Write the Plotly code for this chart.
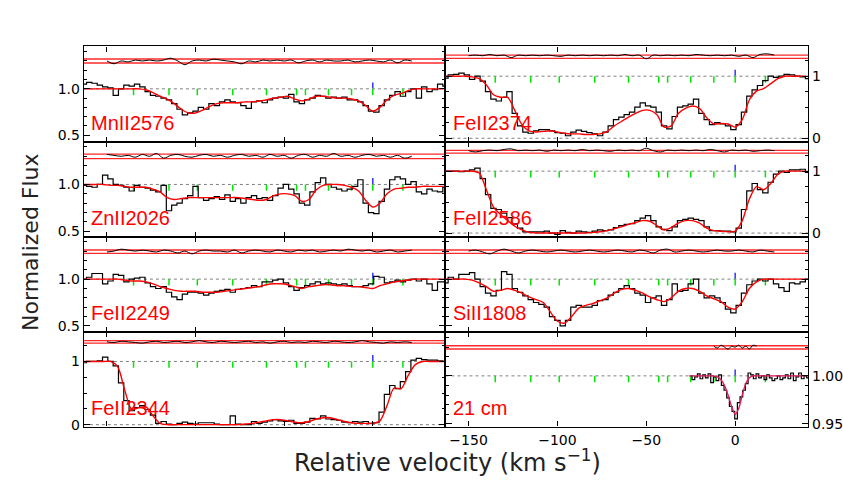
import numpy as np
import plotly.graph_objects as go
from plotly.subplots import make_subplots

W, H = 843, 482
fontsize = 14


def px_x(x):
    return x / W


def px_y(y):
    return 1 - y / H


# velocity grids (km/s)
v_data = np.arange(-163, 42, 3)
v_fit = np.arange(-164, 41, 4)
v_res = np.arange(-150, 23, 4)
v_21 = np.arange(-25, 41.1, 1.5)
v_21fit = np.arange(-26, 41, 2)
v_21res = np.arange(-12, 13, 2)

v_comp = [-135, -115, -99, -79, -60, -43, -38, -25, -12, 0, 17]
v_ref = [0]

# ---- MnII 2576
mn2576_flux = [1.05, 1.07, 1.06, 1.04, 1.02, 1.01, 0.93, 1.00, 1.04, 1.03,
               1.05, 1.02, 0.97, 0.93, 0.92, 0.90, 0.88, 0.84, 0.78, 0.72,
               0.74, 0.76, 0.80, 0.78, 0.84, 0.82, 0.86, 0.88, 0.86, 0.85,
               0.82, 0.79, 0.86, 0.87, 0.85, 0.88, 0.90, 0.91, 0.90, 0.94,
               0.86, 0.84, 0.88, 0.90, 0.93, 0.92, 0.90, 0.91, 0.90, 0.91,
               0.88, 0.88, 0.86, 0.82, 0.76, 0.75, 0.82, 0.88, 0.93, 0.97,
               0.92, 0.97, 1.00, 0.90, 1.02, 0.97, 0.99, 1.05, 1.03]
mn2576_fit = [1.0, 1.0, 1.0, 1.0, 1.0, 1.0, 1.0, 1.0, 1.0, 0.99,
              0.96, 0.92, 0.89, 0.84, 0.78, 0.74, 0.74, 0.77, 0.81, 0.84,
              0.85, 0.85, 0.85, 0.86, 0.86, 0.87, 0.88, 0.90, 0.91, 0.92,
              0.89, 0.87, 0.89, 0.92, 0.92, 0.91, 0.90, 0.90, 0.89, 0.87,
              0.82, 0.76, 0.80, 0.88, 0.93, 0.95, 0.98, 1.0, 1.0, 1.0,
              1.0, 1.0]
mn2576_res = [1.30, 1.27, 1.30, 1.29, 1.31, 1.30, 1.31, 1.30, 1.31, 1.33,
              1.30, 1.26, 1.30, 1.31, 1.30, 1.32, 1.31, 1.30, 1.29, 1.27,
              1.30, 1.29, 1.31, 1.30, 1.31, 1.30, 1.31, 1.28, 1.30, 1.31,
              1.29, 1.31, 1.30, 1.30, 1.31, 1.29, 1.30, 1.31, 1.30, 1.29,
              1.31, 1.28, 1.31, 1.30]

# ---- ZnII 2026
zn2026_flux = [0.99, 0.98, 0.97, 1.00, 1.10, 1.06, 1.00, 0.99, 0.97, 0.93,
               0.99, 0.97, 0.96, 0.94, 0.92, 0.99, 0.72, 0.78, 0.80, 0.85,
               0.88, 0.98, 0.86, 0.83, 0.85, 0.87, 0.84, 0.89, 0.82, 0.85,
               0.80, 0.86, 0.88, 0.85, 0.86, 0.83, 0.88, 0.96, 1.00, 0.95,
               0.90, 0.80, 0.78, 0.92, 1.02, 1.07, 1.00, 0.97, 0.95, 0.93,
               0.95, 0.98, 1.05, 0.80, 0.70, 0.69, 0.82, 0.95, 1.05, 1.08,
               1.06, 1.00, 1.03, 0.92, 0.90, 0.95, 0.93, 0.92, 0.97]
zn2026_fit = [1.0, 1.0, 1.0, 1.0, 0.99, 0.99, 0.98, 0.97, 0.97, 0.97,
              0.95, 0.92, 0.86, 0.84, 0.85, 0.86, 0.86, 0.86, 0.86, 0.86,
              0.86, 0.86, 0.86, 0.85, 0.84, 0.83, 0.84, 0.88, 0.90, 0.90,
              0.88, 0.82, 0.84, 0.94, 0.99, 1.0, 1.0, 0.99, 0.97, 0.93,
              0.83, 0.76, 0.80, 0.90, 0.95, 0.96, 0.97, 0.97, 0.98, 0.98,
              0.98, 0.98]
zn2026_res = [1.32, 1.31, 1.30, 1.31, 1.29, 1.32, 1.30, 1.33, 1.28, 1.31,
              1.32, 1.30, 1.29, 1.31, 1.32, 1.30, 1.31, 1.29, 1.31, 1.32,
              1.30, 1.31, 1.29, 1.32, 1.30, 1.31, 1.28, 1.31, 1.32, 1.29,
              1.31, 1.30, 1.33, 1.30, 1.31, 1.29, 1.31, 1.32, 1.30, 1.31,
              1.29, 1.31, 1.28, 1.30]

# ---- FeII 2249
fe2249_flux = [1.00, 1.02, 1.06, 1.06, 0.95, 0.98, 1.05, 1.04, 0.97, 1.00,
               1.01, 1.02, 0.96, 0.92, 0.90, 0.92, 0.86, 0.81, 0.78, 0.84,
               0.86, 0.86, 0.85, 0.83, 0.85, 0.87, 0.88, 0.89, 0.86, 0.89,
               0.90, 0.91, 0.93, 0.92, 0.97, 0.97, 0.99, 1.00, 0.96, 0.92,
               0.88, 0.91, 0.93, 0.95, 0.97, 0.95, 0.96, 0.95, 0.94, 0.95,
               0.93, 0.92, 0.92, 0.93, 0.95, 1.03, 1.02, 0.96, 0.97, 0.99,
               0.97, 0.99, 1.00, 0.98, 1.00, 0.95, 0.88, 0.97, 0.97]
fe2249_fit = [1.0, 1.0, 1.0, 1.0, 1.0, 1.0, 0.99, 0.98, 0.98, 0.97,
              0.95, 0.92, 0.90, 0.88, 0.87, 0.87, 0.87, 0.86, 0.86, 0.86,
              0.87, 0.88, 0.89, 0.90, 0.91, 0.92, 0.94, 0.95, 0.95, 0.94,
              0.92, 0.90, 0.92, 0.93, 0.94, 0.94, 0.93, 0.93, 0.92, 0.92,
              0.91, 0.90, 0.93, 0.95, 0.97, 0.98, 0.99, 1.0, 1.0, 1.0,
              1.0, 1.0]
fe2249_res = [1.29, 1.30, 1.32, 1.31, 1.30, 1.31, 1.30, 1.29, 1.31, 1.30,
              1.28, 1.30, 1.27, 1.30, 1.31, 1.30, 1.30, 1.29, 1.31, 1.28,
              1.30, 1.31, 1.30, 1.29, 1.31, 1.30, 1.29, 1.31, 1.30, 1.31,
              1.29, 1.30, 1.31, 1.30, 1.32, 1.31, 1.30, 1.31, 1.29, 1.30,
              1.31, 1.29, 1.30, 1.31]

# ---- FeII 2344
fe2344_flux = [0.98, 1.00, 1.00, 1.01, 1.07, 1.00, 0.93, 0.66, 0.38, 0.22,
               0.27, 0.30, 0.24, 0.15, 0.02, 0.05, 0.01, 0.00, 0.02, 0.04,
               0.02, 0.01, 0.03, 0.03, 0.03, 0.01, 0.00, 0.00, 0.14, 0.01,
               0.00, 0.00, 0.05, 0.02, 0.04, 0.06, 0.08, 0.06, 0.05, 0.07,
               0.02, 0.02, 0.04, 0.10, 0.09, 0.14, 0.09, 0.08, 0.07, 0.04,
               0.03, 0.05, 0.04, 0.05, 0.02, 0.03, 0.20, 0.48, 0.62, 0.57,
               0.68, 0.84, 1.02, 1.05, 1.03, 1.02, 1.02, 1.01, 1.00]
fe2344_fit = [1.0, 1.0, 1.0, 1.0, 1.0, 0.92, 0.55, 0.24, 0.27, 0.28,
              0.14, 0.02, 0.0, 0.0, 0.0, 0.0, 0.0, 0.0, 0.0, 0.0,
              0.0, 0.0, 0.0, 0.01, 0.02, 0.04, 0.06, 0.08, 0.08, 0.06,
              0.04, 0.03, 0.05, 0.09, 0.11, 0.11, 0.08, 0.05, 0.03, 0.02,
              0.02, 0.02, 0.06, 0.30, 0.58, 0.57, 0.78, 0.95, 1.0, 1.0,
              1.0, 1.0]
fe2344_res = [1.31, 1.30, 1.32, 1.31, 1.30, 1.29, 1.31, 1.32, 1.30, 1.31,
              1.32, 1.30, 1.31, 1.33, 1.31, 1.30, 1.32, 1.31, 1.30, 1.31,
              1.32, 1.30, 1.31, 1.29, 1.31, 1.32, 1.30, 1.31, 1.30, 1.32,
              1.31, 1.30, 1.32, 1.31, 1.30, 1.31, 1.33, 1.31, 1.30, 1.29,
              1.31, 1.30, 1.31, 1.30]

# ---- FeII 2374
fe2374_flux = [0.97, 1.02, 1.03, 1.05, 1.02, 0.95, 1.00, 0.92, 0.75, 0.63,
               0.60, 0.66, 0.75, 0.40, 0.20, 0.10, 0.08, 0.12, 0.14, 0.14,
               0.12, 0.09, 0.08, 0.04, 0.10, 0.13, 0.11, 0.09, 0.07, 0.04,
               0.10, 0.20, 0.30, 0.34, 0.38, 0.42, 0.50, 0.57, 0.52, 0.50,
               0.42, 0.20, 0.15, 0.35, 0.50, 0.52, 0.55, 0.63, 0.40, 0.30,
               0.22, 0.25, 0.23, 0.20, 0.14, 0.22, 0.42, 0.68, 0.78, 0.85,
               0.93, 1.00, 0.98, 1.00, 1.03, 1.02, 1.00, 0.99, 0.96]
fe2374_fit = [1.0, 1.0, 1.0, 1.0, 0.99, 0.96, 0.86, 0.70, 0.66, 0.66,
              0.45, 0.22, 0.12, 0.10, 0.11, 0.12, 0.10, 0.08, 0.07, 0.07,
              0.06, 0.06, 0.07, 0.11, 0.20, 0.27, 0.34, 0.40, 0.45, 0.45,
              0.38, 0.18, 0.20, 0.40, 0.48, 0.52, 0.48, 0.33, 0.23, 0.24,
              0.23, 0.18, 0.30, 0.62, 0.76, 0.80, 0.88, 0.96, 1.0, 1.0,
              1.0, 1.0]
fe2374_res = [1.33, 1.34, 1.33, 1.35, 1.33, 1.34, 1.30, 1.34, 1.33, 1.34,
              1.33, 1.34, 1.33, 1.32, 1.34, 1.33, 1.34, 1.33, 1.34, 1.33,
              1.34, 1.33, 1.35, 1.33, 1.34, 1.28, 1.34, 1.33, 1.34, 1.33,
              1.34, 1.33, 1.35, 1.34, 1.33, 1.34, 1.33, 1.34, 1.32, 1.34,
              1.30, 1.35, 1.36, 1.34]

# ---- FeII 2586
fe2586_flux = [1.00, 1.00, 1.00, 0.99, 1.00, 1.02, 1.05, 0.88, 0.62, 0.40,
               0.38, 0.32, 0.25, 0.15, 0.08, 0.02, 0.02, 0.02, 0.02, 0.03,
               0.00, -0.02, 0.04, 0.01, 0.00, 0.03, 0.02, 0.01, 0.03, 0.05,
               0.04, 0.05, 0.09, 0.12, 0.14, 0.15, 0.20, 0.24, 0.28, 0.20,
               0.10, 0.06, 0.04, 0.10, 0.20, 0.22, 0.24, 0.22, 0.20, 0.10,
               0.04, 0.04, 0.03, 0.03, 0.02, 0.08, 0.38, 0.68, 0.80, 0.70,
               0.65, 0.82, 0.95, 1.00, 0.98, 1.02, 1.02, 1.03, 0.98]
fe2586_fit = [1.0, 1.0, 1.0, 1.0, 1.0, 0.97, 0.70, 0.42, 0.30, 0.20,
              0.11, 0.05, 0.01, 0.0, 0.0, 0.0, 0.0, 0.0, 0.0, 0.0,
              0.0, 0.01, 0.02, 0.04, 0.07, 0.10, 0.14, 0.17, 0.20, 0.19,
              0.12, 0.05, 0.09, 0.16, 0.20, 0.20, 0.16, 0.08, 0.04, 0.03,
              0.02, 0.03, 0.20, 0.55, 0.75, 0.70, 0.80, 0.95, 1.0, 1.0,
              1.0, 1.0]
fe2586_res = [1.33, 1.31, 1.33, 1.34, 1.33, 1.35, 1.36, 1.33, 1.34, 1.33,
              1.34, 1.32, 1.34, 1.33, 1.34, 1.33, 1.35, 1.33, 1.34, 1.33,
              1.32, 1.34, 1.33, 1.34, 1.33, 1.37, 1.33, 1.31, 1.34, 1.33,
              1.34, 1.33, 1.34, 1.33, 1.35, 1.33, 1.31, 1.34, 1.33, 1.34,
              1.32, 1.33, 1.34, 1.33]

# ---- SiII 1808
si1808_flux = [0.96, 1.02, 1.00, 1.05, 1.05, 1.07, 1.00, 0.92, 0.85, 0.82,
               0.88, 1.08, 1.05, 0.90, 0.86, 0.82, 0.78, 0.75, 0.73, 0.70,
               0.60, 0.56, 0.50, 0.56, 0.70, 0.72, 0.70, 0.70, 0.72, 0.77,
               0.78, 0.83, 0.86, 0.90, 0.93, 0.90, 0.85, 0.83, 0.75, 0.80,
               0.82, 0.72, 0.78, 0.95, 0.87, 0.88, 0.95, 1.00, 0.85, 0.80,
               0.82, 0.80, 0.75, 0.68, 0.64, 0.72, 0.85, 0.94, 0.98, 1.00,
               0.98, 1.00, 0.95, 0.91, 0.87, 0.96, 0.95, 0.97, 1.00]
si1808_fit = [1.0, 1.0, 1.0, 1.0, 0.99, 0.96, 0.92, 0.87, 0.88, 0.90,
              0.88, 0.85, 0.81, 0.78, 0.75, 0.65, 0.55, 0.53, 0.60, 0.69,
              0.72, 0.74, 0.77, 0.80, 0.85, 0.89, 0.90, 0.88, 0.85, 0.81,
              0.78, 0.76, 0.80, 0.87, 0.90, 0.90, 0.87, 0.82, 0.79, 0.76,
              0.70, 0.68, 0.76, 0.90, 0.97, 1.0, 1.0, 1.0, 1.0, 1.0,
              1.0, 1.0]
si1808_res = [1.30, 1.31, 1.29, 1.27, 1.30, 1.32, 1.30, 1.28, 1.30, 1.31,
              1.30, 1.29, 1.30, 1.31, 1.30, 1.29, 1.30, 1.31, 1.30, 1.29,
              1.30, 1.31, 1.30, 1.29, 1.31, 1.30, 1.28, 1.31, 1.32, 1.29,
              1.30, 1.31, 1.30, 1.29, 1.30, 1.31, 1.30, 1.30, 1.31, 1.30,
              1.29, 1.31, 1.30, 1.29]

# ---- HI 21 cm
h21_flux = [1.000, 0.996, 0.999, 1.002, 0.997, 1.001, 0.998, 1.002, 0.993, 0.999,
            0.995, 1.001, 0.990, 0.985, 0.977, 0.968, 0.963, 0.955, 0.972, 0.978,
            0.985, 0.992, 1.003, 1.001, 0.997, 1.002, 0.998, 1.000, 0.996, 1.001,
            0.998, 0.995, 0.997, 1.000, 0.996, 0.998, 1.001, 0.997, 1.003, 0.995,
            0.999, 1.003, 0.997, 1.000, 0.998]
h21_fit = [1.0, 1.0, 1.0, 1.0, 1.0, 1.0, 1.0, 1.0, 0.999, 0.996,
           0.990, 0.980, 0.968, 0.960, 0.966, 0.980, 0.992, 0.998, 1.0, 1.0,
           1.0, 1.0, 1.0, 1.0, 1.0, 1.0, 1.0, 1.0, 1.0, 1.0,
           1.0, 1.0, 1.0, 1.0]
h21_res = [1.031, 1.029, 1.032, 1.030, 1.028, 1.031, 1.030, 1.032, 1.029, 1.031,
           1.028, 1.032, 1.031]

panels = [
    dict(row=1, col=1, name='MnII2576', vd=v_data, flux=mn2576_flux, vf=v_fit, fit=mn2576_fit,
         vr=v_res, res=mn2576_res, band=(1.279, 1.321), yr=[0.425, 1.457], zero=False,
         dtick=0.5, minor=0.1, fmt='.1f', side='left', labels=True),
    dict(row=2, col=1, name='ZnII2026', vd=v_data, flux=zn2026_flux, vf=v_fit, fit=zn2026_fit,
         vr=v_res, res=zn2026_res, band=(1.275, 1.323), yr=[0.44, 1.45], zero=False,
         dtick=0.5, minor=0.1, fmt='.1f', side='left', labels=True),
    dict(row=3, col=1, name='FeII2249', vd=v_data, flux=fe2249_flux, vf=v_fit, fit=fe2249_fit,
         vr=v_res, res=fe2249_res, band=(1.275, 1.312), yr=[0.437, 1.45], zero=False,
         dtick=0.5, minor=0.1, fmt='.1f', side='left', labels=True),
    dict(row=4, col=1, name='FeII2344', vd=v_data, flux=fe2344_flux, vf=v_fit, fit=fe2344_fit,
         vr=v_res, res=fe2344_res, band=(1.29, 1.33), yr=[-0.031, 1.469], zero=True,
         dtick=1, minor=0.25, fmt='d', side='left', labels=True),
    dict(row=1, col=2, name='FeII2374', vd=v_data, flux=fe2374_flux, vf=v_fit, fit=fe2374_fit,
         vr=v_res, res=fe2374_res, band=(1.287, 1.34), yr=[-0.064, 1.48], zero=True,
         dtick=1, minor=0.25, fmt='d', side='right', labels=True),
    dict(row=2, col=2, name='FeII2586', vd=v_data, flux=fe2586_flux, vf=v_fit, fit=fe2586_fit,
         vr=v_res, res=fe2586_res, band=(1.29, 1.335), yr=[-0.064, 1.467], zero=True,
         dtick=1, minor=0.25, fmt='d', side='right', labels=True),
    dict(row=3, col=2, name='SiII1808', vd=v_data, flux=si1808_flux, vf=v_fit, fit=si1808_fit,
         vr=v_res, res=si1808_res, band=(1.275, 1.312), yr=[0.437, 1.45], zero=False,
         dtick=0.5, minor=0.1, fmt='.1f', side='right', labels=False),
    dict(row=4, col=2, name='21 cm', vd=v_21, flux=h21_flux, vf=v_21fit, fit=h21_fit,
         vr=v_21res, res=h21_res, band=(1.028, 1.0315), yr=[0.947, 1.046], zero=False,
         dtick=0.05, minor=0.01, fmt='.2f', side='right', labels=True, fitcolor='rgb(225,30,90)'),
]

fig = make_subplots(rows=4, cols=2, horizontal_spacing=0, vertical_spacing=0)

x_dom = {1: [px_x(84), px_x(446)], 2: [px_x(446), px_x(809)]}
y_px = [47, 144, 240, 336, 432]
panel_px = 96.5

for p in panels:
    r, c = p['row'], p['col']
    # component ticks
    unit = (p['yr'][1] - p['yr'][0]) / panel_px
    gx, gy = [], []
    for v in v_comp:
        gx += [v, v, None]
        gy += [1.0, 1.0 - 6.5 * unit, None]
    bx, by = [], []
    for v in v_ref:
        bx += [v, v, None]
        by += [1.0 + 0.5 * unit, 1.0 + 6.5 * unit, None]
    fig.add_trace(go.Scatter(x=gx, y=gy, mode='lines', line=dict(color='rgb(0,230,0)', width=1.5),
                             hoverinfo='skip', showlegend=False), row=r, col=c)
    fig.add_trace(go.Scatter(x=bx, y=by, mode='lines', line=dict(color='rgb(50,50,255)', width=1.5),
                             hoverinfo='skip', showlegend=False), row=r, col=c)
    # residual
    fig.add_trace(go.Scatter(x=p['vr'], y=p['res'], mode='lines', line=dict(color='black', width=1, shape='spline'),
                             hoverinfo='skip', showlegend=False), row=r, col=c)
    # data
    fig.add_trace(go.Scatter(x=p['vd'], y=p['flux'], mode='lines', line=dict(color='black', width=1.2, shape='hvh'),
                             hoverinfo='skip', showlegend=False), row=r, col=c)
    # fit
    fig.add_trace(go.Scatter(x=p['vf'], y=p['fit'], mode='lines',
                             line=dict(color=p.get('fitcolor', 'red'), width=1.4, shape='spline', smoothing=0.8),
                             hoverinfo='skip', showlegend=False), row=r, col=c)

    # continuum / zero level
    fig.add_hline(y=1.0, line=dict(color='gray', width=1, dash='dot'), layer='below',
                  exclude_empty_subplots=False, row=r, col=c)
    if p['zero']:
        fig.add_hline(y=0.0, line=dict(color='gray', width=1, dash='dot'), layer='below',
                      exclude_empty_subplots=False, row=r, col=c)
    # residual band
    for b in p['band']:
        fig.add_hline(y=b, line=dict(color='rgb(255,40,40)', width=1.4), layer='below',
                      exclude_empty_subplots=False, row=r, col=c)

    n = (r - 1) * 2 + c
    suffix = '' if n == 1 else str(n)
    fig.update_xaxes(domain=x_dom[c], range=[-163, 41], tick0=0, dtick=50, ticks='inside', ticklen=5,
                     tickcolor='black', showline=True, linecolor='black', linewidth=1.3, mirror='ticks',
                     showgrid=False, zeroline=False, showticklabels=(r == 4 and c == 2),
                     tickfont=dict(family='DejaVu Sans', size=fontsize, color='black'), row=r, col=c)
    fig.update_yaxes(domain=[px_y(y_px[r]), px_y(y_px[r - 1])], range=p['yr'], tick0=0, dtick=p['dtick'],
                     tickformat=p['fmt'], ticks='inside', ticklen=6, tickcolor='black', side=p['side'],
                     minor=dict(dtick=p['minor'], ticks='inside', ticklen=3, tickcolor='black', showgrid=False),
                     showline=True, linecolor='black', linewidth=1.3, mirror='ticks', showgrid=False,
                     zeroline=False, showticklabels=p['labels'],
                     tickfont=dict(family='DejaVu Sans', size=fontsize, color='black'), row=r, col=c)
    fig.add_annotation(text=p['name'], xref='x%s domain' % suffix, yref='y%s domain' % suffix,
                       x=0.015, y=0.06, xanchor='left', yanchor='bottom', showarrow=False,
                       font=dict(family='Liberation Sans', size=20, color='red'))

fig.add_annotation(text='Normalized Flux', xref='paper', yref='paper', x=px_x(31), y=px_y(245),
                   xanchor='center', yanchor='middle',
                   textangle=-90, showarrow=False, font=dict(family='DejaVu Sans', size=22, color='#222'))
fig.add_annotation(text='Relative velocity (km s<sup>\u22121</sup>)', xref='paper', yref='paper',
                   x=px_x(448), y=px_y(467), xanchor='center', yanchor='middle', showarrow=False,
                   font=dict(family='DejaVu Sans', size=24, color='#222'))

fig.update_layout(width=W, height=H, margin=dict(l=0, r=0, t=0, b=0), showlegend=False,
                  plot_bgcolor='rgba(0,0,0,0)', paper_bgcolor='white')

# the page's default body margin would shift the plot; remove it
fig.write_html("out.html", config={'displayModeBar': False},
               post_script="document.body.style.margin='0px';")
